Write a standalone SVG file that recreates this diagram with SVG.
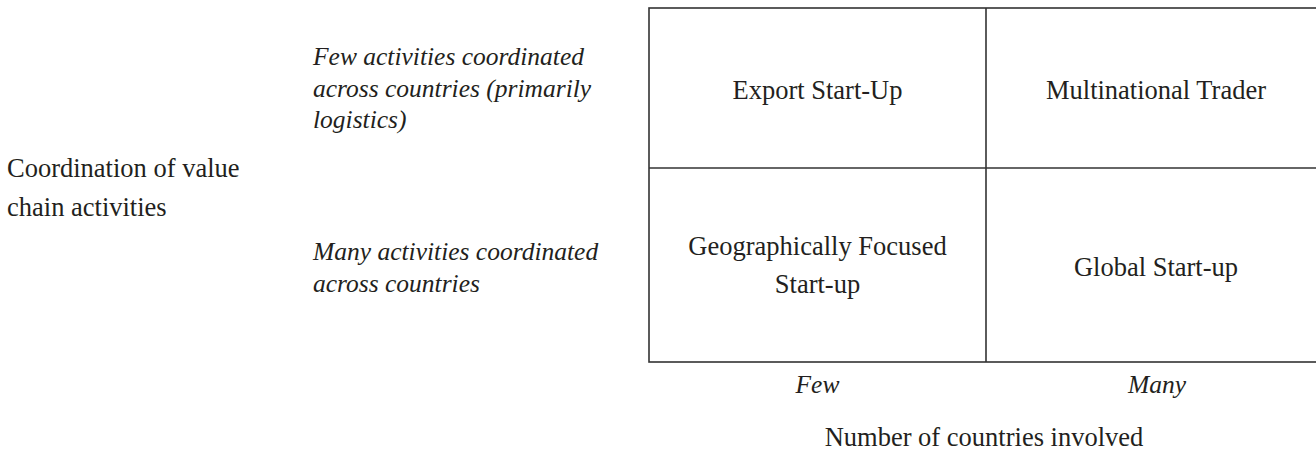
<svg xmlns="http://www.w3.org/2000/svg" width="1316" height="457" viewBox="0 0 1316 457">
<style>
text{font-family:"Liberation Serif","Times New Roman",serif;fill:#231f20;font-size:26.5px}
.it{font-style:italic;font-size:25.5px}
.c{text-anchor:middle}
.grid{fill:none;stroke:#333;stroke-width:1.6}
</style>
<rect width="1316" height="457" fill="#fff"/>
<g id="connectors">
<rect class="grid" x="649" y="8" width="677" height="354"/>
<line class="grid" x1="986" y1="8" x2="986" y2="362"/>
<line class="grid" x1="649" y1="168" x2="1326" y2="168"/>
</g>
<g id="axis-y">
<text x="7" y="177">Coordination of value</text>
<text x="7" y="216">chain activities</text>
</g>
<g id="row-few">
<text class="it" x="313" y="65">Few activities coordinated</text>
<text class="it" x="313" y="97">across countries (primarily</text>
<text class="it" x="313" y="128">logistics)</text>
</g>
<g id="row-many">
<text class="it" x="313" y="260">Many activities coordinated</text>
<text class="it" x="313" y="292">across countries</text>
</g>
<g id="cell-export"><text class="c" x="817.5" y="99">Export Start-Up</text></g>
<g id="cell-multinational"><text class="c" x="1156" y="99">Multinational Trader</text></g>
<g id="cell-geo">
<text class="c" x="817.5" y="255">Geographically Focused</text>
<text class="c" x="817.5" y="293">Start-up</text>
</g>
<g id="cell-global"><text class="c" x="1156" y="276">Global Start-up</text></g>
<g id="col-few"><text class="it c" x="817.5" y="393">Few</text></g>
<g id="col-many"><text class="it c" x="1157" y="393">Many</text></g>
<g id="axis-x"><text class="c" x="984" y="446">Number of countries involved</text></g>
</svg>
